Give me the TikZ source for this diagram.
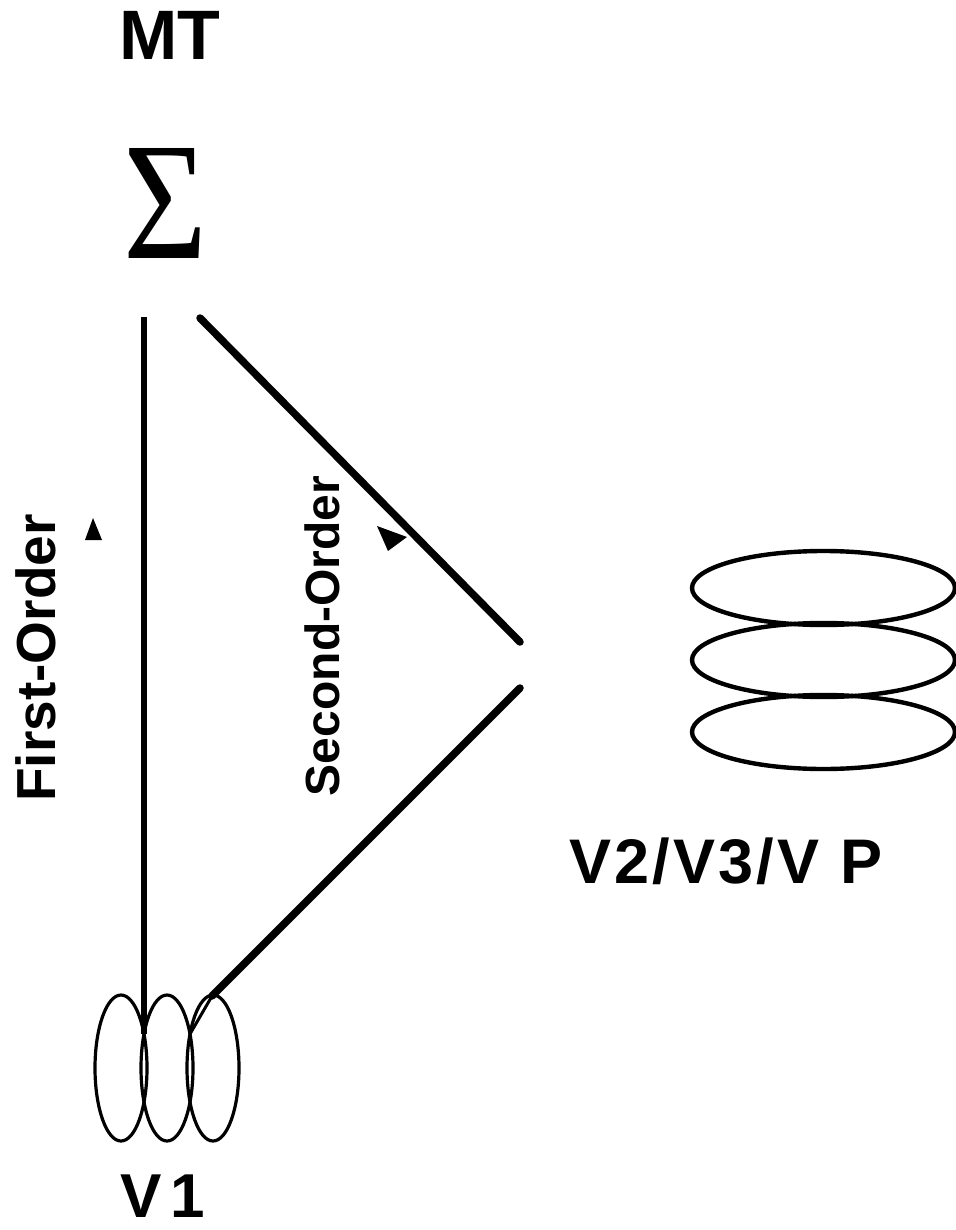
\documentclass[tikz,border=0pt]{standalone}
\usepackage{fontspec}
\setmainfont{Liberation Sans}
\newfontfamily\sigmafont{Liberation Serif}
\usetikzlibrary{shapes.geometric}
\begin{document}
\begin{tikzpicture}[x=1pt,y=-1pt,
  lbl/.style={inner sep=0pt, outer sep=0pt},
  pathway/.style={line width=7.5pt, line cap=round},
  direct/.style={line width=5.5pt},
  colblob/.style={draw, ellipse, line width=3.2pt, inner sep=0pt,
    minimum width=52pt, minimum height=146pt},
  areablob/.style={draw, ellipse, line width=4.4pt, inner sep=0pt,
    minimum width=263pt, minimum height=74pt},
  tip/.style={fill=black}]
\useasboundingbox (0,0) rectangle (955,1230);

% area labels
\node[lbl, anchor=base] (mt) at (170,60) {\fontsize{70}{70}\selectfont\bfseries MT};
\node[lbl] (sigma) at (165,203) {\resizebox*{84pt}{110pt}{\sigmafont Σ}};

% V1 columns
\node[colblob] (v1a) at (121,1068) {};
\node[colblob] (v1b) at (167,1068) {};
\node[colblob] (v1c) at (213,1068) {};
\node[lbl, anchor=base] (v1lbl) at (163,1217)
  {\fontsize{62}{62}\selectfont\bfseries\addfontfeatures{LetterSpace=14}V1};

% V2/V3/VP stack
\node[areablob] (ex1) at (823.5,588) {};
\node[areablob] (ex2) at (823.5,660) {};
\node[areablob] (ex3) at (823.5,732) {};
\node[lbl, anchor=base] (exlbl) at (726,883)
  {\fontsize{63}{63}\selectfont\bfseries\addfontfeatures{LetterSpace=5}V2/V3/V P};

% pathway labels
\node[lbl, rotate=90] (first) at (36,658)
  {\fontsize{55}{55}\selectfont\bfseries First-Order};
\node[lbl, rotate=90] (second) at (322,636)
  {\fontsize{48}{48}\selectfont\bfseries Second-Order};

% connector end points
\coordinate (fo-top) at (144,317);
\coordinate (ab) at (144,1034);
\coordinate (so-top) at (200,318);
\coordinate (so-in) at (520,642);
\coordinate (so-out) at (520,688);
\coordinate (so-knee) at (212,996);
\coordinate (bc) at (190,1034);

% first-order pathway
\draw[direct] (fo-top) -- (ab);
% second-order pathway
\draw[pathway] (so-top) -- (so-in);
\draw[pathway] (so-out) -- (so-knee);
\draw[line width=3pt] (so-knee) -- (bc);

% direction markers
\fill[tip] (93,518) -- (85,540) -- (102,540) -- cycle;
\fill[tip] (377,526) -- (407,537) -- (388,551) -- cycle;
\end{tikzpicture}
\end{document}
